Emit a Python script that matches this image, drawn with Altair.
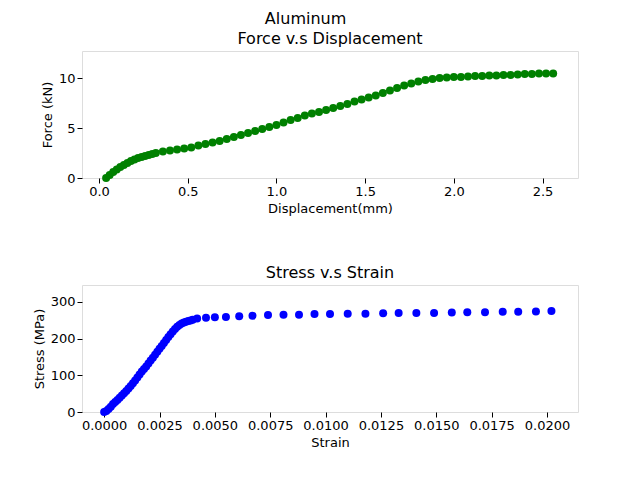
import altair as alt
import pandas as pd

displacement = [0.04, 0.06, 0.08, 0.10, 0.12, 0.14, 0.16, 0.18, 0.20, 0.22, 0.24, 0.26, 0.28, 0.30,
                0.32, 0.36, 0.40, 0.44, 0.48, 0.52,
                0.56, 0.60, 0.64, 0.68, 0.72, 0.76, 0.80, 0.84, 0.88, 0.92, 0.96, 1.00, 1.04,
                1.08, 1.12, 1.16, 1.20, 1.24, 1.28, 1.32, 1.36, 1.40, 1.44, 1.48, 1.52, 1.56,
                1.60, 1.64, 1.68, 1.72, 1.76, 1.80, 1.84, 1.88, 1.92, 1.96, 2.00, 2.04, 2.08,
                2.12, 2.16, 2.20, 2.24, 2.28, 2.32, 2.36, 2.40, 2.44, 2.48, 2.52, 2.56]
force = [0.0, 0.3, 0.6, 0.85, 1.1, 1.3, 1.5, 1.7, 1.85, 2.0, 2.1, 2.2, 2.3, 2.4,
         2.5, 2.65, 2.75, 2.85, 2.95, 3.05,
         3.25, 3.4, 3.55, 3.7, 3.9, 4.1, 4.3, 4.5, 4.7, 4.9, 5.1, 5.3, 5.55,
         5.8, 6.0, 6.25, 6.45, 6.6, 6.8, 7.0, 7.2, 7.4, 7.65, 7.85, 8.05, 8.25,
         8.5, 8.75, 9.0, 9.25, 9.45, 9.65, 9.8, 9.9, 10.0, 10.05, 10.1, 10.1, 10.15,
         10.2, 10.2, 10.25, 10.25, 10.3, 10.3, 10.35, 10.4, 10.4, 10.45, 10.45, 10.45]

strain = [0.0000, 0.0001, 0.0002, 0.0003, 0.0004, 0.0005, 0.0006, 0.0007, 0.0008, 0.0009,
          0.0010, 0.0011, 0.0012, 0.0013, 0.0014, 0.0015, 0.0016, 0.0017, 0.0018, 0.0019,
          0.0020, 0.0021, 0.0022, 0.0023, 0.0024, 0.0025, 0.0026, 0.0027, 0.0028, 0.0029,
          0.0030, 0.0031, 0.0032, 0.0033, 0.0034, 0.0035, 0.0036, 0.0037, 0.0038, 0.0039,
          0.0040, 0.0042, 0.0046, 0.0050, 0.0055, 0.0061, 0.0067, 0.0074, 0.0081, 0.0088,
          0.0095, 0.0102, 0.0110, 0.0118, 0.0126, 0.0133, 0.0141, 0.0149, 0.0157, 0.0164,
          0.0172, 0.0180, 0.0187, 0.0195, 0.0202]
stress = [0, 3, 8, 14, 22, 27, 33, 39, 45, 51,
          57, 64, 71, 78, 86, 94, 102, 110, 117, 124,
          132, 140, 148, 156, 164, 172, 180, 188, 196, 204,
          212, 219, 226, 232, 237, 241, 244, 246, 248, 249,
          251, 255, 257, 258, 259, 261, 262, 264, 265, 265,
          267, 267, 268, 268, 269, 270, 270, 270, 271, 272,
          272, 273, 273, 274, 275]

fd = pd.DataFrame({"disp": displacement, "force": force})
ss = pd.DataFrame({"strain": strain, "stress": stress})

axis_style = dict(grid=False, domain=False, tickColor="black", labelColor="black",
                  titleColor="black", labelFontSize=13, titleFontSize=13,
                  titleFontWeight="normal", labelFont="DejaVu Sans", titleFont="DejaVu Sans")


def panel_title(text):
    return alt.Title(text, fontSize=16, fontWeight="normal", font="DejaVu Sans", color="black")


top = (
    alt.Chart(fd, title=panel_title("Force v.s Displacement"))
    .mark_circle(color="green", size=64, opacity=1)
    .encode(
        x=alt.X("disp:Q", title="Displacement(mm)",
                scale=alt.Scale(domain=[-0.096, 2.70], nice=False, zero=False),
                axis=alt.Axis(values=[0, 0.5, 1.0, 1.5, 2.0, 2.5], format=".1f", **axis_style)),
        y=alt.Y("force:Q", title="Force (kN)",
                scale=alt.Scale(domain=[0, 12.7], nice=False),
                axis=alt.Axis(values=[0, 5, 10], **axis_style)),
    )
    .properties(width=496, height=127)
)

bottom = (
    alt.Chart(ss, title=panel_title("Stress v.s Strain"))
    .mark_circle(color="blue", size=64, opacity=1)
    .encode(
        x=alt.X("strain:Q", title="Strain",
                scale=alt.Scale(domain=[-0.001, 0.0214], nice=False, zero=False),
                axis=alt.Axis(values=[0, 0.0025, 0.005, 0.0075, 0.01, 0.0125, 0.015, 0.0175, 0.02],
                              format=".4f", **axis_style)),
        y=alt.Y("stress:Q", title="Stress (MPa)",
                scale=alt.Scale(domain=[0, 346], nice=False),
                axis=alt.Axis(values=[0, 100, 200, 300], **axis_style)),
    )
    .properties(width=496, height=127)
)

chart = (
    alt.vconcat(top, bottom, spacing=48)
    .properties(title=alt.Title("Aluminum", fontSize=16, fontWeight="normal",
                                font="DejaVu Sans", anchor="middle", color="black"),
                padding={"left": 24, "top": 2, "right": 10, "bottom": 5})
    .configure_view(stroke="black", strokeWidth=1)
    .configure(background="white")
)

chart.save("out.html", embed_options={"renderer": "svg", "actions": False})
